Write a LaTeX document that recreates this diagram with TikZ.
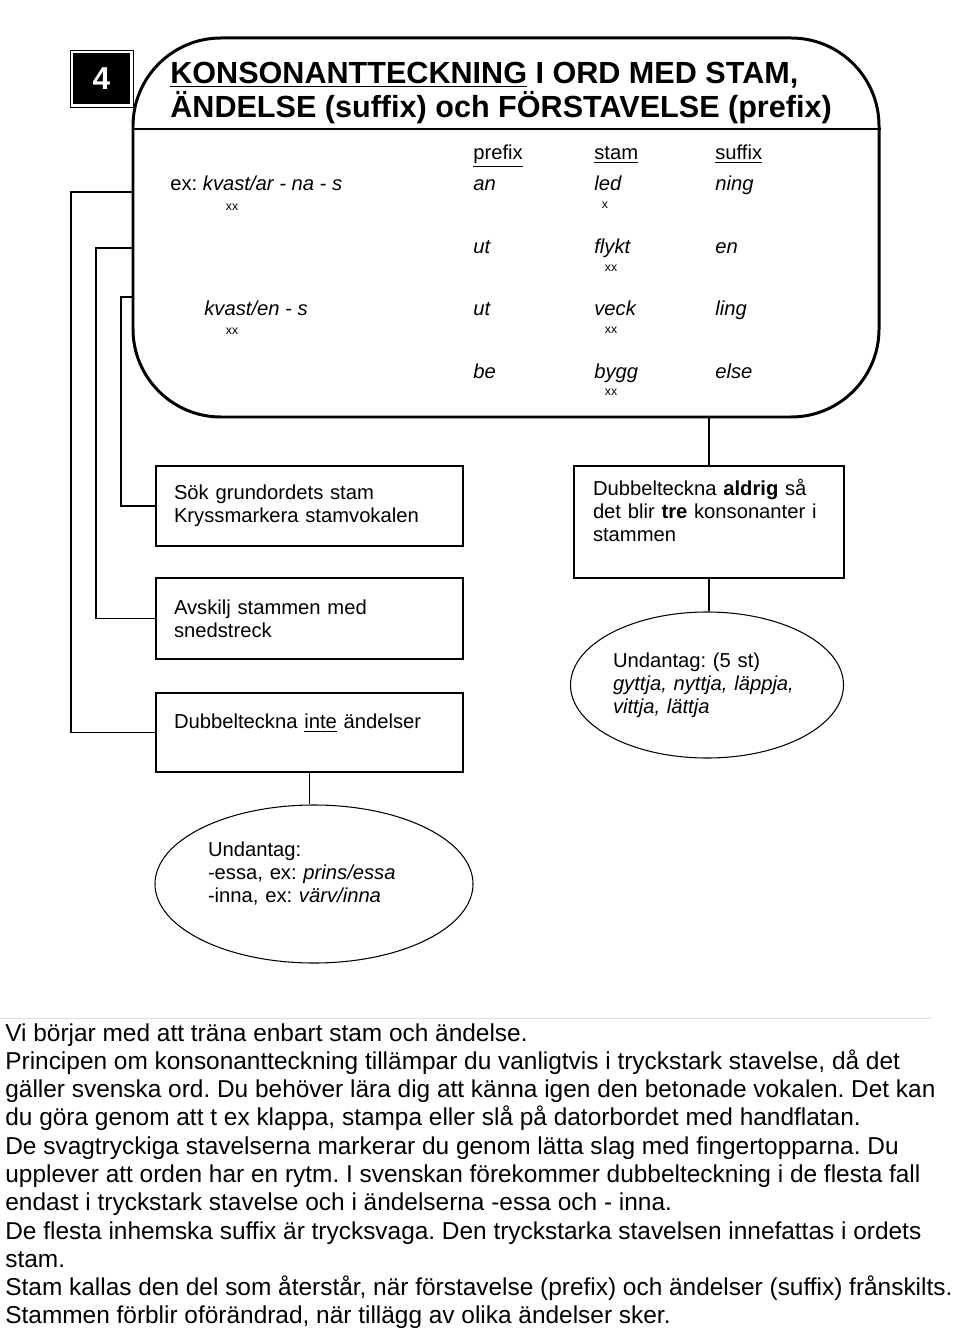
\documentclass[tikz,border=0pt]{standalone}
\usepackage{fontspec}
\setmainfont{Liberation Sans}
\usepackage{tikz}
\usetikzlibrary{shapes.geometric}
\frenchspacing
\definecolor{figline}{RGB}{0,0,0}
\definecolor{figrule}{RGB}{222,222,222}
\tikzset{
  frm/.style  ={draw=figline, line width=1.7pt, rounded corners=17.6mm, minimum width=149.2mm, minimum height=75.8mm, inner sep=0pt},
  bx/.style   ={draw=figline, line width=0.8pt, inner sep=0pt, align=left, font=\fontsize{11.5}{13.1}\selectfont},
  ell/.style  ={ellipse, draw=figline, line width=0.6pt, inner sep=0pt, align=left, font=\fontsize{11.5}{13.1}\selectfont},
  lnk/.style  ={draw=figline, line width=0.8pt},
  lab/.style  ={font=\fontsize{11.5}{13.1}\selectfont, inner sep=0pt, anchor=base west},
  labi/.style ={lab, font=\fontsize{11.5}{13.1}\selectfont\itshape},
  mk/.style   ={font=\fontsize{7}{7}\selectfont, inner sep=0pt},
  ttl/.style  ={font=\fontsize{17.4}{20}\selectfont\bfseries, inner sep=0pt, anchor=base west},
}

\begin{document}
\begin{tikzpicture}[x=0.2mm,y=-0.2mm]
  \useasboundingbox (0,0) rectangle (960,1330);
  \node[draw=figline, line width=0.5pt, minimum width=12.6mm, minimum height=11.4mm, inner sep=0pt] (nrbox) at (101.5,78.5) {};
  \node[fill=figline, text=white, minimum width=11.4mm, minimum height=10.2mm, inner sep=0pt, font=\fontsize{18}{18}\selectfont\bfseries] (nr) at (nrbox.center) {4};
  \node[frm] (frame) at (506,227.5) {};
  \coordinate (dv) at (0,129);
  \draw[draw=figline, line width=1.7pt] (dv -| frame.west) -- (dv -| frame.east);
  \node[ttl] (t1) at (170,84) {\underline{KONSONANTTECKNING} I ORD MED STAM,};
  \node[ttl] (t2) at (170,118) {ÄNDELSE (suffix) och FÖRSTAVELSE (prefix)};
  \node[lab] (hpre) at (473,160) {\underline{prefix}};
  \node[lab] (hstam) at (594,160) {\underline{stam}};
  \node[lab] (hsuf) at (715,160) {\underline{suffix}};
  \node[lab] (ex1) at (170,191) {ex: \textit{kvast/ar - na - s}};
  \node[mk] (ex1x) at (232,207) {xx};
  \node[labi] (p1) at (473,191) {an};
  \node[labi] (s1) at (594,191) {led};
  \node[mk] (s1x) at (605,205) {x};
  \node[labi] (f1) at (715,191) {ning};
  \node[labi] (p2) at (473,254) {ut};
  \node[labi] (s2) at (594,254) {flykt};
  \node[mk] (s2x) at (611,268) {xx};
  \node[labi] (f2) at (715,254) {en};
  \node[labi] (ex2) at (204,316) {kvast/en - s};
  \node[mk] (ex2x) at (232,331) {xx};
  \node[labi] (p3) at (473,316) {ut};
  \node[labi] (s3) at (594,316) {veck};
  \node[mk] (s3x) at (611,330) {xx};
  \node[labi] (f3) at (715,316) {ling};
  \node[labi] (p4) at (473,378) {be};
  \node[labi] (s4) at (594,378) {bygg};
  \node[mk] (s4x) at (611,392) {xx};
  \node[labi] (f4) at (715,378) {else};
  \node[bx, minimum width=61.4mm, minimum height=16mm, text width=54.2mm] (sok) at (309.5,506) {Sök grundordets stam\\Kryssmarkera stamvokalen};
  \node[bx, minimum width=61.4mm, minimum height=16.2mm, text width=54.2mm] (avs) at (309.5,618.5) {Avskilj stammen med\\snedstreck};
  \node[bx, minimum width=61.4mm, minimum height=15.8mm, text width=54.2mm] (dub) at (309.5,732.5) {Dubbelteckna \underline{inte} ändelser\\\mbox{}};
  \node[bx, minimum width=54mm, minimum height=22.4mm, text width=46.4mm] (tre) at (709,522) {Dubbelteckna \textbf{aldrig} så\\det blir \textbf{tre} konsonanter i\\stammen\\\mbox{}};
  \node[ell, minimum width=54.6mm, minimum height=29.2mm, text width=37.6mm] (ex5) at (707,685) {Undantag: (5 st)\\\textit{gyttja, nyttja, läppja,}\\\textit{vittja, lättja}};
  \node[ell, minimum width=63.6mm, minimum height=31.6mm, text width=42.4mm] (exd) at (314,884) {Undantag:\\-essa, ex: \textit{prins/essa}\\-inna, ex: \textit{värv/inna}\\\mbox{}};
  \draw[lnk] (tre.north) -- (tre.north |- frame.south);
  \draw[lnk] (tre.south) -- (tre.south |- ex5.north);
  \draw[lnk] (dub.south) -- (dub.south |- exd.north);
  \coordinate (k1) at (71,192);
  \coordinate (k2) at (96,248);
  \coordinate (k3) at (121,297);
  \draw[lnk] (dub.west) -| (k1) -- (k1 -| frame.west);
  \draw[lnk] (avs.west) -| (k2) -- (k2 -| frame.west);
  \draw[lnk] (sok.west) -| (k3) -- (k3 -| frame.west);
  \draw[draw=figrule, line width=0.5pt] (0,1018) -- (931,1018);
  \node[font=\fontsize{13.9}{16.1}\selectfont, align=left, inner sep=0pt, anchor=north west] (txt) at (5,1023) {Vi börjar med att träna enbart stam och ändelse.\\
Principen om konsonantteckning tillämpar du vanligtvis i tryckstark stavelse, då det\\
gäller svenska ord. Du behöver lära dig att känna igen den betonade vokalen. Det kan\\
du göra genom att t ex klappa, stampa eller slå på datorbordet med handflatan.\\
De svagtryckiga stavelserna markerar du genom lätta slag med fingertopparna. Du\\
upplever att orden har en rytm. I svenskan förekommer dubbelteckning i de flesta fall\\
endast i tryckstark stavelse och i ändelserna -essa och - inna.\\
De flesta inhemska suffix är trycksvaga. Den tryckstarka stavelsen innefattas i ordets\\
stam.\\
Stam kallas den del som återstår, när förstavelse (prefix) och ändelser (suffix) frånskilts.\\
Stammen förblir oförändrad, när tillägg av olika ändelser sker.};
\end{tikzpicture}
\end{document}
